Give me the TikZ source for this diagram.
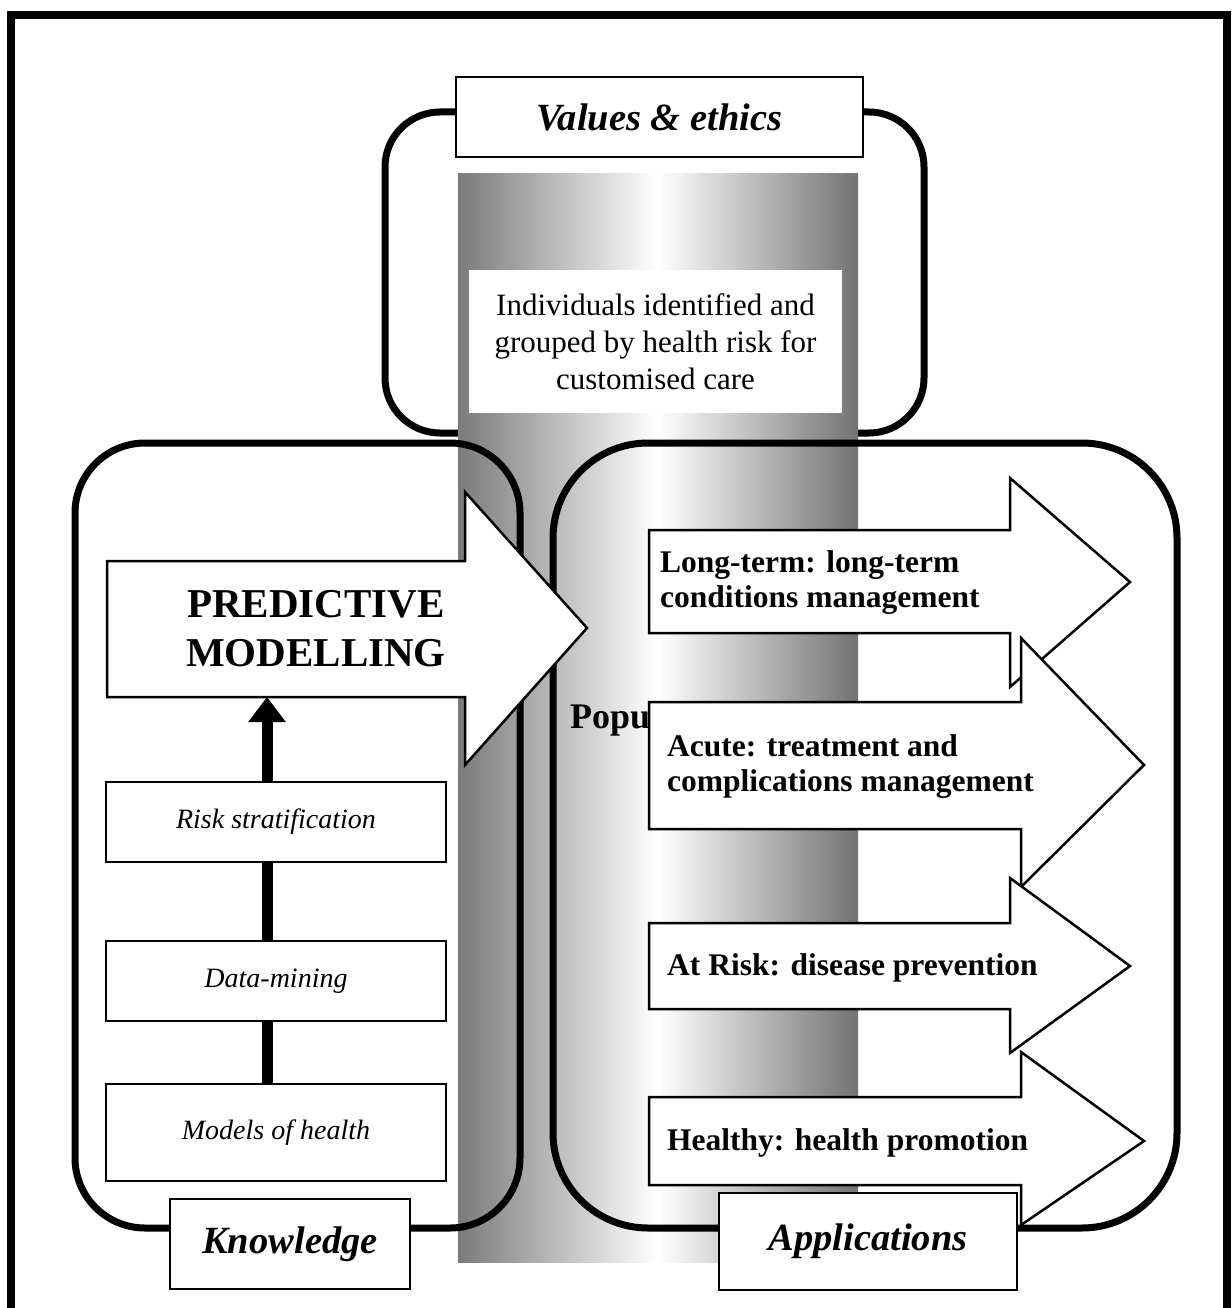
\documentclass[tikz,border=0pt]{standalone}
\usepackage{fontspec}
\setmainfont{Liberation Serif}
\usetikzlibrary{arrows.meta}
\tikzstyle{panel}=[line width=7pt]
\tikzstyle{tag}=[draw, line width=1.8pt, fill=white, inner sep=0pt, font=\bfseries\itshape\fontsize{38.5}{38.5}\selectfont]
\tikzstyle{stepbox}=[draw, line width=1.8pt, fill=white, minimum width=340pt, inner sep=0pt, font=\itshape\fontsize{28}{28}\selectfont]
\tikzstyle{flow}=[draw, line width=2.5pt, fill=white, line join=miter]
\tikzstyle{flowtext}=[inner sep=0pt, align=left, font=\bfseries\fontsize{31.5}{35}\selectfont]
\tikzstyle{link}=[line width=11pt]

\begin{document}
\begin{tikzpicture}[x=1pt, y=-1pt]
\useasboundingbox (0,0) rectangle (1231,1308);
% outer frame
\draw[line width=8pt] (11,1308) -- (11,15) -- (1227,15) -- (1227,1308);
% values panel and population column
\draw[panel, rounded corners=55pt] (385,112) rectangle (924,433);
\shade[left color=black!52, right color=black!55, middle color=white] (458,174) rectangle (858,1262);
\node[fill=white, minimum width=373pt, minimum height=143pt, inner sep=0pt, align=center, font=\fontsize{31}{37}\selectfont] (individuals) at (655.5,341.5) {Individuals identified and\\grouped by health risk for\\customised care};
% knowledge and applications panels
\draw[panel, rounded corners=70pt] (75,443) rectangle (520,1228);
\draw[panel, rounded corners=95pt] (553,443) rectangle (1177,1228);
\node[stepbox, minimum height=80pt] (risk) at (276,822) {Risk stratification};
\node[stepbox, minimum height=80pt] (mining) at (276,981) {Data-mining};
\node[stepbox, minimum height=97pt] (models) at (276,1132.5) {Models of health};
\coordinate (predfoot) at (267,697);
\draw[link] (models.north -| predfoot) -- (mining.south -| predfoot);
\draw[link] (mining.north -| predfoot) -- (risk.south -| predfoot);
\draw[link, -{Triangle[width=36pt,length=25pt]}] (risk.north -| predfoot) -- (predfoot);
\draw[flow] (107,561) -- (465,561) -- (465,492) -- (587,628) -- (465,765) -- (465,697) -- (107,697) -- cycle;
\node[inner sep=0pt, align=center, font=\bfseries\fontsize{41}{49}\selectfont] (predictive) at (316,629) {PREDICTIVE\\MODELLING};
\node[inner sep=0pt, anchor=base west, font=\bfseries\fontsize{36}{36}\selectfont] (popu) at (570,728) {Popu};
% applications arrows
\draw[flow] (649,530) -- (1010,530) -- (1010,478) -- (1130,582) -- (1010,687) -- (1010,633) -- (649,633) -- cycle;
\node[flowtext, anchor=west] (longterm) at (660,583) {Long-term: long-term\\conditions management};
\draw[flow] (649,702) -- (1021,702) -- (1021,638) -- (1144,765) -- (1021,887) -- (1021,829) -- (649,829) -- cycle;
\node[flowtext, anchor=west] (acute) at (667,767) {Acute: treatment and\\complications management};
\draw[flow] (649,923) -- (1010,923) -- (1010,878) -- (1130,966) -- (1010,1053) -- (1010,1009) -- (649,1009) -- cycle;
\node[flowtext, anchor=base west] (atrisk) at (667,975) {At Risk: disease prevention};
\draw[flow] (649,1097) -- (1021,1097) -- (1021,1052) -- (1144,1141) -- (1021,1225) -- (1021,1185) -- (649,1185) -- cycle;
\node[flowtext, anchor=base west] (healthy) at (667,1150) {Healthy: health promotion};
% panel tags
\node[tag, minimum width=407pt, minimum height=80pt] (values) at (659.5,117) {Values \& ethics};
\node[tag, minimum width=240pt, minimum height=90pt] (knowledge) at (290,1244) {Knowledge};
\node[tag, minimum width=298pt, minimum height=97pt] (applications) at (868,1241.5) {Applications};
\end{tikzpicture}
\end{document}
